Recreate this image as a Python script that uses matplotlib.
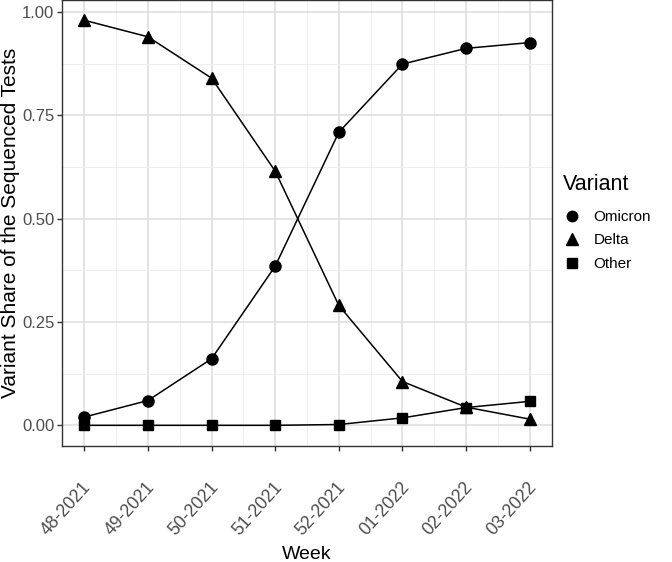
import matplotlib
matplotlib.use("Agg")
import matplotlib.pyplot as plt
import matplotlib.transforms as mtransforms
from matplotlib.lines import Line2D
import numpy as np

plt.rcParams['font.family'] = ['Liberation Sans', 'DejaVu Sans']

weeks = ["48-2021", "49-2021", "50-2021", "51-2021", "52-2021", "01-2022", "02-2022", "03-2022"]
omicron = [0.020, 0.060, 0.161, 0.385, 0.709, 0.874, 0.912, 0.926]
delta = [0.980, 0.940, 0.840, 0.615, 0.290, 0.106, 0.044, 0.015]
other = [0.000, 0.000, 0.000, 0.000, 0.002, 0.018, 0.043, 0.058]
series = [("Omicron", omicron, "o"), ("Delta", delta, "^"), ("Other", other, "s")]

fig = plt.figure(figsize=(6.72, 5.62), dpi=100)
ax = fig.add_axes([62/672, (562-446)/562, (552-62)/672, 446/562])

x = np.arange(1, len(weeks) + 1)
msize = {"o": 8, "^": 9, "s": 7.5}
for name, vals, m in series:
    ax.plot(x, vals, color="black", lw=1.1, marker=m, ms=msize[m], zorder=3)

ax.set_xlim(x[0] - 0.35, x[-1] + 0.35)
ax.set_ylim(-0.05, 1.029)
ax.set_xticks(x)
ax.set_xticklabels(weeks, rotation=48, ha="right", va="center", rotation_mode="anchor")
ax.set_xticks(x[:-1] + 0.5, minor=True)
ax.set_yticks([0, 0.25, 0.5, 0.75, 1.0])
ax.set_yticklabels(["0.00", "0.25", "0.50", "0.75", "1.00"])
ax.set_yticks([0.125, 0.375, 0.625, 0.875], minor=True)
ax.grid(True, which="major", color="#DCDCDC", lw=1.1)
ax.grid(True, which="minor", color="#EBEBEB", lw=0.6)
ax.set_axisbelow(True)
for s in ax.spines.values():
    s.set_color("#333333")
    s.set_linewidth(1.0)
ax.tick_params(which="major", direction="out", length=3.5, width=1, color="#333333",
               labelsize=12, labelcolor="#4D4D4D", pad=2)
ax.tick_params(which="minor", length=0)
ax.tick_params(axis="x", pad=24, labelsize=12.8)
offset = mtransforms.ScaledTranslation(4/100, 0, fig.dpi_scale_trans)
for lab in ax.get_xticklabels():
    lab.set_transform(lab.get_transform() + offset)
ax.set_xlabel("Week", fontsize=14)
ax.xaxis.set_label_coords(0.5, -(546 - 446) / 446)
ax.set_ylabel("Variant Share of the Sequenced Tests", fontsize=15, labelpad=1.5)

handles = [Line2D([], [], color="black", marker=m, ls="none", ms=msize[m] - 0.5) for _, _, m in series]
leg = fig.legend(handles, [s[0] for s in series], title="Variant", loc="upper left",
                 bbox_to_anchor=(549/672, 1 - 160/562), frameon=False, fontsize=11,
                 title_fontsize=15.5, handlelength=1.2, handletextpad=0.8, labelspacing=0.62,
                 alignment="left")
leg._legend_box.sep = 11
fig.savefig("out.png", dpi=100)
